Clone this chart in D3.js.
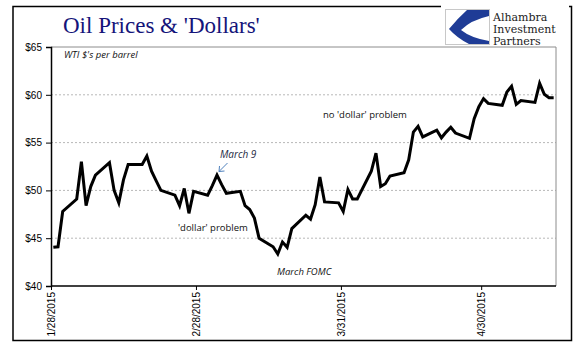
<!DOCTYPE html>
<html><head><meta charset="utf-8">
<script src="https://cdn.jsdelivr.net/npm/d3@7"></script>
<style>body{margin:0;background:#fff}svg{display:block}</style>
</head><body>
<svg id="c" width="577" height="361"></svg>
<script>
const dates = ["2015-01-28","2015-01-29","2015-01-30","2015-02-02","2015-02-03","2015-02-04","2015-02-05","2015-02-06","2015-02-09","2015-02-10","2015-02-11","2015-02-12","2015-02-13","2015-02-16","2015-02-17","2015-02-18","2015-02-19","2015-02-20","2015-02-23","2015-02-24","2015-02-25","2015-02-26","2015-02-27","2015-03-02","2015-03-03","2015-03-04","2015-03-05","2015-03-06","2015-03-09","2015-03-10","2015-03-11","2015-03-12","2015-03-13","2015-03-16","2015-03-17","2015-03-18","2015-03-19","2015-03-20","2015-03-23","2015-03-24","2015-03-25","2015-03-26","2015-03-27","2015-03-30","2015-03-31","2015-04-01","2015-04-02","2015-04-03","2015-04-06","2015-04-07","2015-04-08","2015-04-09","2015-04-10","2015-04-13","2015-04-14","2015-04-15","2015-04-16","2015-04-17","2015-04-20","2015-04-21","2015-04-22","2015-04-23","2015-04-24","2015-04-27","2015-04-28","2015-04-29","2015-04-30","2015-05-01","2015-05-04","2015-05-05","2015-05-06","2015-05-07","2015-05-08","2015-05-11","2015-05-12","2015-05-13","2015-05-14","2015-05-15"];
const prices = [44.05,44.1,47.8,49.1,53.0,48.4,50.4,51.6,52.9,50.0,48.7,51.1,52.7,52.7,53.6,52.0,51.0,50.0,49.5,48.4,50.2,47.6,49.9,49.5,50.5,51.6,50.6,49.7,49.9,48.4,48.0,47.1,45.0,44.1,43.35,44.6,44.05,46.0,47.4,47.0,48.5,51.4,48.8,48.7,47.8,50.1,49.1,49.1,52.0,53.9,50.4,50.7,51.5,51.85,53.2,56.1,56.7,55.6,56.3,55.5,56.1,56.6,56.0,55.45,57.5,58.75,59.6,59.1,58.9,60.3,60.9,59.0,59.4,59.2,61.2,60.05,59.7,59.7];
const yTicks = [40,45,50,55,60,65];
const xTickDates = ["2015-01-28","2015-02-28","2015-03-31","2015-04-30"];
const title = "Oil Prices & 'Dollars'";
const logoLines = ["Alhambra","Investment","Partners"];

const parse = d3.utcParse("%Y-%m-%d");
const svg = d3.select("#c");
const L = 51, R = 556, T = 47, B = 286;

// outer frame
svg.append("rect").attr("x",13).attr("y",6.5).attr("width",558.5).attr("height",334)
  .attr("fill","none").attr("stroke","#000").attr("stroke-width",1.5);

const x = d3.scaleUtc().domain([parse("2015-01-28"), parse("2015-05-16")]).range([L, R]);
const y = d3.scaleLinear().domain([40,65]).range([B, T]);

// gridlines
svg.append("g").selectAll("line").data(yTicks.filter(v=>v>40 && v<65)).join("line")
  .attr("x1",L).attr("x2",R).attr("y1",d=>y(d)).attr("y2",d=>y(d))
  .attr("stroke","#b8b8b8").attr("stroke-width",1).attr("stroke-dasharray","2,2");
// plot border (top / right gray)
svg.append("line").attr("x1",L).attr("x2",R).attr("y1",y(65)).attr("y2",y(65)).attr("stroke","#8c8c8c");
svg.append("line").attr("x1",R).attr("x2",R).attr("y1",y(65)).attr("y2",B).attr("stroke","#8c8c8c");

// y axis
const ya = d3.axisLeft(y).tickValues(yTicks).tickSize(5).tickPadding(4).tickFormat(d=>"$"+d);
const gy = svg.append("g").attr("transform",`translate(${L},0)`).call(ya);
gy.select(".domain").attr("stroke","#000").attr("stroke-width",1.5);
gy.selectAll(".tick line").attr("stroke","#000");
gy.selectAll("text").attr("font-family","Liberation Sans, Arial, sans-serif").attr("font-size",10).attr("fill","#000");

// x axis
const xa = d3.axisBottom(x).tickValues(xTickDates.map(parse)).tickSize(4).tickFormat(d3.utcFormat("%-m/%-d/%Y"));
const gx = svg.append("g").attr("transform",`translate(0,${B})`).call(xa);
gx.select(".domain").attr("stroke","#000").attr("stroke-width",1.5).attr("d",`M${L},0H${R}`);
gx.selectAll(".tick line").attr("stroke","#000");
gx.selectAll("text").attr("font-family","Liberation Sans, Arial, sans-serif").attr("font-size",10).attr("fill","#000")
  .attr("transform","rotate(-90)").attr("text-anchor","end").attr("x",-6).attr("y",0).attr("dy","0.35em");

// line
const data = dates.map((d,i)=>({d:d3.utcHour.offset(parse(d),12), v:prices[i]}));
svg.append("path").datum(data).attr("fill","none").attr("stroke","#000").attr("stroke-width",3)
  .attr("stroke-linejoin","miter").attr("stroke-miterlimit",4)
  .attr("d", d3.line().x(d=>x(d.d)).y(d=>y(d.v)));

// title
svg.append("text").attr("x",63).attr("y",33).attr("font-family","Liberation Serif, Times New Roman, serif")
  .attr("font-size",23).attr("fill","#14147a").text(title);

// texts
const t = (txt,xx,yy,opt={}) => svg.append("text").attr("x",xx).attr("y",yy)
  .attr("font-family","Open Sans, DejaVu Sans, sans-serif").attr("font-size",opt.fs||9.5)
  .attr("font-style",opt.it?"italic":"normal").attr("fill",opt.c||"#111").text(txt);
t("WTI $'s per barrel",64,58,{it:true});
t("March 9",220,158,{it:true,fs:10,c:"#1f2a44"});
t("'dollar' problem",178,231,{fs:9.5});
t("March FOMC",277,275,{it:true,fs:9.5});
t("no 'dollar' problem",323,118,{fs:9.5});

// arrow
svg.append("line").attr("x1",227.5).attr("y1",163).attr("x2",219).attr("y2",171.5)
  .attr("stroke","#4f81bd").attr("stroke-width",1);
svg.append("path").attr("d","M219,171.5 L219.5,166 M219,171.5 L224.5,171").attr("stroke","#4f81bd").attr("fill","none").attr("stroke-width",1);

// logo
const lg = svg.append("g");
lg.append("rect").attr("x",441).attr("y",2).attr("width",128).attr("height",44).attr("fill","#fff");
lg.append("rect").attr("x",445.5).attr("y",9.5).attr("width",44).attr("height",35).attr("fill","#fff").attr("stroke","#c8c8c8");
lg.append("path").attr("d","M467,10 L489,10 L489,16 Q471,20 461,30 Q471,38 489,41 L489,44 L469,44 Q457,38 449,29 Q457,19 467,10 Z")
  .attr("fill","#1f3c96");
const lt = lg.append("text").attr("font-family","DejaVu Serif, Liberation Serif, serif").attr("font-size",11).attr("fill","#222");
logoLines.forEach((s,i)=>lt.append("tspan").attr("x",493).attr("y",20.5+i*12.4).text(s));
</script>
</body></html>
